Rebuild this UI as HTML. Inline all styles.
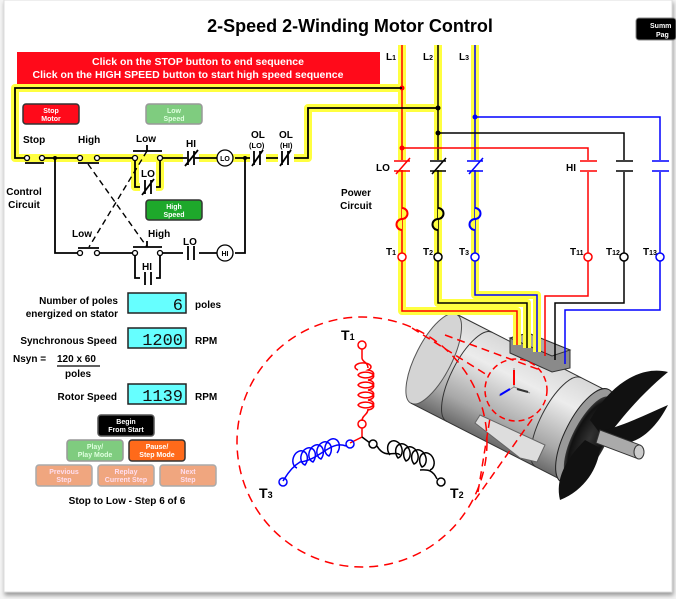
<!DOCTYPE html>
<html><head><meta charset="utf-8"><style>
html,body{margin:0;padding:0;background:#f2f2f2;}
svg{display:block;font-family:"Liberation Sans",Arial,sans-serif;}
</style></head><body>
<svg width="676" height="599" viewBox="0 0 676 599" xmlns="http://www.w3.org/2000/svg">
<defs>
<linearGradient id="body" x1="0" y1="0" x2="0" y2="1">
<stop offset="0" stop-color="#d8d8d8"/><stop offset="0.3" stop-color="#ececec"/><stop offset="0.75" stop-color="#a8a8a8"/><stop offset="1" stop-color="#6a6a6a"/></linearGradient>
<radialGradient id="cap" cx="0.5" cy="0.5" r="0.6"><stop offset="0" stop-color="#333"/><stop offset="0.7" stop-color="#111"/><stop offset="1" stop-color="#666"/></radialGradient>
<filter id="sh" x="-5%" y="-5%" width="110%" height="110%"><feDropShadow dx="1" dy="3" stdDeviation="2" flood-color="#999"/></filter>
</defs>
<rect x="0" y="0" width="676" height="599" fill="#f4f4f4"/>
<rect x="4" y="0" width="668" height="592" fill="#fff" stroke="#ddd" filter="url(#sh)"/>

<text x="350" y="32" text-anchor="middle" font-size="18" font-weight="bold">2-Speed 2-Winding Motor Control</text>
<rect x="636" y="18" width="40" height="22" rx="3" fill="#000" stroke="#888"/>
<text x="650" y="28" font-size="7" fill="#fff" font-weight="bold">Summ</text>
<text x="656" y="37" font-size="7" fill="#fff" font-weight="bold">Pag</text>

<rect x="17" y="52" width="363" height="32" fill="#ff0a1a"/>
<text x="198" y="65" text-anchor="middle" font-size="10.5" font-weight="bold" fill="#fff">Click on the STOP button to end sequence</text>
<text x="188" y="78" text-anchor="middle" font-size="10.5" font-weight="bold" fill="#fff">Click on the HIGH SPEED button to start high speed sequence</text>

<g transform="translate(505,395) rotate(27)">
<rect x="-80" y="-50" width="170" height="100" fill="url(#body)"/>
<ellipse cx="-80" cy="0" rx="18" ry="50" fill="#d4d4d4" stroke="#555"/>
<line x1="-80" y1="-50" x2="90" y2="-50" stroke="#333"/>
<line x1="-80" y1="50" x2="90" y2="50" stroke="#333"/>
<path d="M-40 -50 a18 50 0 0 0 0 100" fill="none" stroke="#333"/>
<path d="M60 -50 a18 50 0 0 0 0 100" fill="none" stroke="#333"/>
<ellipse cx="90" cy="0" rx="20" ry="52" fill="#999" stroke="#222"/>
<ellipse cx="95" cy="0" rx="17" ry="46" fill="url(#cap)"/>
</g>
<path d="M510 338 L528 333 L570 350 L570 368 L552 372 L510 353 Z" fill="#8a8a8a" stroke="#333"/>
<path d="M510 338 L528 333 L570 350 L552 356 Z" fill="#aaa" stroke="#333"/>
<path d="M475 423 L480 415 L545 445 L537 462 L520 458 Z" fill="#ddd" stroke="#666"/>
<path d="M590 420 C610 385 640 365 668 372 C640 395 620 420 605 440 Z" fill="#111"/>
<path d="M585 440 C565 460 555 480 560 500 C585 490 598 468 600 448 Z" fill="#111"/>
<path d="M605 440 C625 450 650 440 668 405 C645 415 625 425 605 430 Z" fill="#111"/>
<path d="M600 430 L640 445 L636 458 L596 443 Z" fill="#aaa" stroke="#333"/>
<ellipse cx="639" cy="452" rx="5" ry="7" fill="#ccc" stroke="#333"/>

<g fill="none" stroke="#ffff40" stroke-width="8" stroke-linejoin="round">
<path d="M402 45 V311 H517 V345"/>
<path d="M438 45 V303 H527 V348"/>
<path d="M475 45 V295 H537 V352"/>
<path d="M402 88 H15 V158 H308 V108 H438"/>
<path d="M135 158 V187 H160 V158"/>
</g>
<g fill="none" stroke-width="1.5">
<path d="M402 45 V311 H517 V345" stroke="#f00"/>
<path d="M438 45 V303 H527 V348" stroke="#000"/>
<path d="M475 45 V295 H537 V352" stroke="#00f"/>
<path d="M402 148 H588 V296 H545 V356" stroke="#f00"/>
<path d="M438 133 H624 V303 H555 V360" stroke="#000"/>
<path d="M475 117 H660 V310 H565 V364" stroke="#00f"/>
</g>
<circle cx="402" cy="88" r="2.5" fill="#f00"/><circle cx="438" cy="108" r="2.5" fill="#000"/>
<circle cx="475" cy="117" r="2.5" fill="#00f"/><circle cx="438" cy="133" r="2.5" fill="#000"/><circle cx="402" cy="148" r="2.5" fill="#f00"/>
<text x="386" y="60" font-size="10" font-weight="bold">L<tspan font-size="7">1</tspan></text>
<text x="423" y="60" font-size="10" font-weight="bold">L<tspan font-size="7">2</tspan></text>
<text x="459" y="60" font-size="10" font-weight="bold">L<tspan font-size="7">3</tspan></text>
<g stroke-width="1.5" fill="none">
<rect x="394" y="160" width="16" height="10" fill="#fff" stroke="none"/>
<rect x="430" y="160" width="16" height="10" fill="#fff" stroke="none"/>
<rect x="467" y="160" width="16" height="10" fill="#fff" stroke="none"/>
<path d="M394 161 H410 M394 171 H410 M396 174 L410 158" stroke="#f00"/>
<path d="M430 161 H446 M430 171 H446 M432 174 L446 158" stroke="#000"/>
<path d="M467 161 H483 M467 171 H483 M469 174 L483 158" stroke="#00f"/>
<rect x="580" y="160" width="16" height="12" fill="#fff" stroke="none"/>
<rect x="616" y="160" width="16" height="12" fill="#fff" stroke="none"/>
<rect x="652" y="160" width="16" height="12" fill="#fff" stroke="none"/>
<path d="M580 161 H597 M580 171 H597" stroke="#f00"/>
<path d="M616 161 H633 M616 171 H633" stroke="#000"/>
<path d="M652 161 H669 M652 171 H669" stroke="#00f"/>
<path d="M402 208 a5 5 0 0 1 0 11 a5 5 0 0 0 0 11" stroke="#f00" stroke-width="2" fill="#ffff40"/>
<path d="M438 208 a5 5 0 0 1 0 11 a5 5 0 0 0 0 11" stroke="#000" stroke-width="2" fill="#ffff40"/>
<path d="M475 208 a5 5 0 0 1 0 11 a5 5 0 0 0 0 11" stroke="#00f" stroke-width="2" fill="#ffff40"/>
</g>
<g stroke-width="1.5" fill="#fff">
<circle cx="402" cy="257" r="4" stroke="#f00"/><circle cx="438" cy="257" r="4" stroke="#000"/><circle cx="475" cy="257" r="4" stroke="#00f"/>
<circle cx="588" cy="257" r="4" stroke="#f00"/><circle cx="624" cy="257" r="4" stroke="#000"/><circle cx="660" cy="257" r="4" stroke="#00f"/>
</g>
<g font-size="10" font-weight="bold">
<text x="376" y="171">LO</text><text x="566" y="171">HI</text>
<text x="386" y="255">T<tspan font-size="7">1</tspan></text><text x="423" y="255">T<tspan font-size="7">2</tspan></text><text x="459" y="255">T<tspan font-size="7">3</tspan></text>
<text x="570" y="255">T<tspan font-size="7">11</tspan></text><text x="606" y="255">T<tspan font-size="7">12</tspan></text><text x="643" y="255">T<tspan font-size="7">13</tspan></text>
<text x="356" y="196" text-anchor="middle">Power</text><text x="356" y="209" text-anchor="middle">Circuit</text>
</g>

<g fill="none" stroke="#000" stroke-width="1.8">
<path d="M402 88 H15 V158 H27 M42 158 H80 M97 158 H135 M160 158 H225 M235 158 H308 V108 H438"/>
<path d="M135 158 V187 H160 V158"/>
<path d="M55 158 V253 H80 M97 253 H135 M160 253 H225 M235 253 H245 V158"/>
<path d="M135 253 V278 H160 V253"/>
</g>
<g fill="#fff" stroke="#000" stroke-width="1.3">
<rect x="183" y="150" width="16" height="14" stroke="none"/><rect x="250" y="150" width="16" height="14" stroke="none"/><rect x="278" y="150" width="16" height="14" stroke="none"/>
<rect x="140" y="180" width="16" height="14" stroke="none"/><rect x="183" y="246" width="16" height="14" stroke="none"/><rect x="140" y="272" width="16" height="14" stroke="none"/>
<circle cx="27" cy="158" r="2.5"/><circle cx="42" cy="158" r="2.5"/>
<circle cx="80" cy="158" r="2.5"/><circle cx="97" cy="158" r="2.5"/>
<circle cx="135" cy="158" r="2.5"/><circle cx="160" cy="158" r="2.5"/>
<circle cx="80" cy="253" r="2.5"/><circle cx="97" cy="253" r="2.5"/>
<circle cx="135" cy="253" r="2.5"/><circle cx="160" cy="253" r="2.5"/>
<circle cx="225" cy="158" r="8"/><circle cx="225" cy="253" r="8"/>
</g>
<circle cx="55" cy="158" r="2" fill="#000"/><circle cx="245" cy="158" r="2" fill="#000"/>
<g stroke="#000" stroke-width="1.8" fill="none">
<path d="M25 163 H44 M78 163 H99 M133 151 H162 M147 151 V145 M78 248 H99 M133 247 H162 M147 247 V241"/>
<path d="M187 158 H183 M188 151 V165 M194 151 V165 M195 158 H199 M185 166 L198 150"/>
<path d="M254 151 V165 M260 151 V165 M252 166 L263 150"/>
<path d="M282 151 V165 M288 151 V165 M280 166 L291 150"/>
<path d="M145 180 V194 M151 180 V194 M142 195 L154 179"/>
<path d="M188 246 V260 M194 246 V260"/>
<path d="M145 272 V285 M151 272 V285"/>
<path d="M88 164 L147 247 M147 151 L89 247" stroke-dasharray="6 4" stroke-width="1.4"/>
</g>
<text x="225" y="161" text-anchor="middle" font-size="7" font-weight="bold">LO</text>
<text x="225" y="256" text-anchor="middle" font-size="7" font-weight="bold">HI</text>
<g font-size="10" font-weight="bold">
<text x="23" y="143">Stop</text><text x="78" y="143">High</text><text x="136" y="142">Low</text>
<text x="186" y="147">HI</text><text x="251" y="138">OL</text><text x="279" y="138">OL</text>
<text x="249" y="148" font-size="7.5">(LO)</text><text x="280" y="148" font-size="7.5">(HI)</text>
<text x="141" y="177">LO</text>
<text x="24" y="195" text-anchor="middle">Control</text><text x="24" y="208" text-anchor="middle">Circuit</text>
<text x="72" y="237">Low</text><text x="148" y="237">High</text><text x="183" y="245">LO</text><text x="142" y="270">HI</text>
</g>
<rect x="23" y="104" width="56" height="20" rx="3" fill="#ff0a1a" stroke="#333" stroke-width="1.5"/>
<text x="51" y="113" text-anchor="middle" font-size="7" font-weight="bold" fill="#fff">Stop</text><text x="51" y="121" text-anchor="middle" font-size="7" font-weight="bold" fill="#fff">Motor</text>
<rect x="146" y="104" width="56" height="20" rx="3" fill="#7fcc7f" stroke="#999" stroke-width="1.5"/>
<text x="174" y="113" text-anchor="middle" font-size="7" font-weight="bold" fill="#dfd">Low</text><text x="174" y="121" text-anchor="middle" font-size="7" font-weight="bold" fill="#dfd">Speed</text>
<rect x="146" y="200" width="56" height="20" rx="3" fill="#1ea82b" stroke="#333" stroke-width="1.5"/>
<text x="174" y="209" text-anchor="middle" font-size="7" font-weight="bold" fill="#fff">High</text><text x="174" y="217" text-anchor="middle" font-size="7" font-weight="bold" fill="#fff">Speed</text>

<g font-size="10" font-weight="bold">
<text x="118" y="304" text-anchor="end">Number of poles</text><text x="118" y="317" text-anchor="end">energized on stator</text>
<text x="195" y="308">poles</text>
<text x="117" y="344" text-anchor="end">Synchronous Speed</text><text x="195" y="344">RPM</text>
<text x="13" y="362">Nsyn =</text><text x="57" y="362">120 x 60</text><text x="65" y="377">poles</text>
<text x="117" y="400" text-anchor="end">Rotor Speed</text><text x="195" y="400">RPM</text>
<text x="127" y="504" text-anchor="middle">Stop to Low - Step 6 of 6</text>
</g>
<line x1="57" y1="366" x2="100" y2="366" stroke="#000" stroke-width="1.2"/>
<g fill="#6ff" stroke="#222" stroke-width="1.5">
<rect x="128" y="293" width="58" height="20"/><rect x="128" y="328" width="58" height="20"/><rect x="128" y="384" width="58" height="20"/>
</g>
<g font-family="'Liberation Mono',monospace" font-size="17" text-anchor="end" fill="#111">
<text x="183" y="310">6</text><text x="183" y="345">1200</text><text x="183" y="401">1139</text>
</g>
<g font-size="7" font-weight="bold" text-anchor="middle">
<rect x="98" y="415" width="56" height="21" rx="3" fill="#000" stroke="#555" stroke-width="1.5"/>
<text x="126" y="424" fill="#fff">Begin</text><text x="126" y="432" fill="#fff">From Start</text>
<rect x="67" y="440" width="56" height="21" rx="3" fill="#7fcc7f" stroke="#999" stroke-width="1.5"/>
<text x="95" y="449" fill="#dfd">Play/</text><text x="95" y="457" fill="#dfd">Play Mode</text>
<rect x="129" y="440" width="56" height="21" rx="3" fill="#ff6a1a" stroke="#333" stroke-width="1.5"/>
<text x="157" y="449" fill="#fff">Pause/</text><text x="157" y="457" fill="#fff">Step Mode</text>
<rect x="36" y="465" width="56" height="21" rx="3" fill="#f0a67f" stroke="#aaa" stroke-width="1.5"/>
<text x="64" y="474" fill="#fde">Previous</text><text x="64" y="482" fill="#fde">Step</text>
<rect x="98" y="465" width="56" height="21" rx="3" fill="#f0a67f" stroke="#aaa" stroke-width="1.5"/>
<text x="126" y="474" fill="#fde">Replay</text><text x="126" y="482" fill="#fde">Current Step</text>
<rect x="160" y="465" width="56" height="21" rx="3" fill="#f0a67f" stroke="#aaa" stroke-width="1.5"/>
<text x="188" y="474" fill="#fde">Next</text><text x="188" y="482" fill="#fde">Step</text>
</g>

<circle cx="516" cy="390" r="31" fill="none" stroke="#f00" stroke-width="1.5" stroke-dasharray="6 4"/>
<path d="M514 368 V387 L499 396 M514 387 L530 393" stroke="#888" fill="none"/>
<path d="M514 370 V385" stroke="#f00" stroke-width="2"/>
<path d="M500 395 L510 389" stroke="#00f" stroke-width="2"/>
<path d="M517 389 L528 392" stroke="#333" stroke-width="2"/>
<path d="M412 328 L487 375 M445 335 L540 370 M478 492 L490 418 M475 500 L535 415" stroke="#f00" stroke-width="1.5" stroke-dasharray="8 5" fill="none"/>

<circle cx="362" cy="442" r="125" fill="none" stroke="#f00" stroke-width="1.5" stroke-dasharray="9 6"/>
<g fill="none" stroke-width="1.5">
<path d="M362 349 V358 C362 362 368 362 368 368 M362 421 C362 415 368 415 368 409" stroke="#f00"/>
<path d="M358 370 a8 4 0 1 1 10 0 a8 4 0 1 1 -10 5 a8 4 0 1 1 10 5 a8 4 0 1 1 -10 5 a8 4 0 1 1 10 5 a8 4 0 1 1 -10 5 a8 4 0 1 1 10 5 a8 4 0 1 1 -10 5 a8 4 0 1 1 10 5" stroke="#f00"/>
<circle cx="362" cy="345" r="4" stroke="#f00"/><circle cx="362" cy="424" r="4" stroke="#f00"/>
<path d="M362 428 V437 L350 443" stroke="#f00"/>
<path d="M362 437 L370 443" stroke="#000"/>
<circle cx="350" cy="444" r="4" stroke="#00f"/><circle cx="373" cy="444" r="4" stroke="#000"/>
<path d="M346 446 C330 440 320 460 300 462 C290 468 285 478 283 481" stroke="#00f"/>
<path d="M297 468 a7 9 20 1 1 8 -3 a7 9 20 1 1 8 -3 a7 9 20 1 1 8 -3 a7 9 20 1 1 8 -3 a7 9 20 1 1 8 -3" stroke="#00f"/>
<circle cx="283" cy="482" r="4" stroke="#00f"/>
<path d="M377 446 C385 460 395 450 400 455 M420 470 C425 470 432 468 437 479" stroke="#000"/>
<path d="M390 455 a7 9 -20 1 1 8 3 a7 9 -20 1 1 8 3 a7 9 -20 1 1 8 3 a7 9 -20 1 1 8 3 a7 9 -20 1 1 8 3" stroke="#000"/>
<circle cx="441" cy="482" r="4" stroke="#000"/>
</g>
<g font-size="14" font-weight="bold">
<text x="341" y="340">T<tspan font-size="9">1</tspan></text>
<text x="259" y="498">T<tspan font-size="9">3</tspan></text>
<text x="450" y="498">T<tspan font-size="9">2</tspan></text>
</g>
</svg>
</body></html>
